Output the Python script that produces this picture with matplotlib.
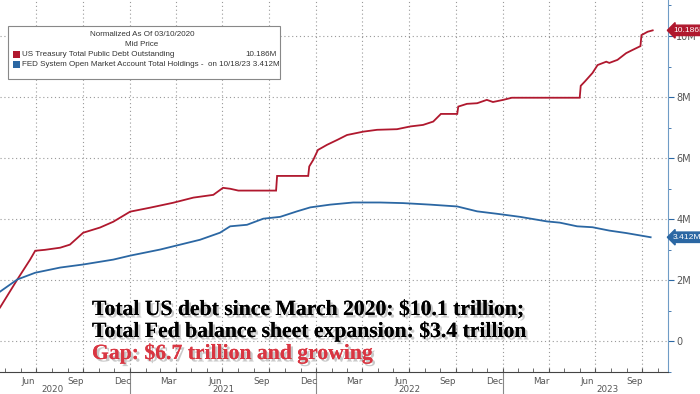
import numpy as np
import pandas as pd
import matplotlib.pyplot as plt
import matplotlib.patheffects as pe
from matplotlib.transforms import blended_transform_factory

# US Treasury total public debt, change since 03/10/2020 (trillions)
debt_dates = ['2020-04-21', '2020-05-25', '2020-06-19', '2020-06-29', '2020-07-18',
              '2020-08-17', '2020-09-05', '2020-10-01', '2020-11-03', '2020-11-29',
              '2021-01-01', '2021-02-09', '2021-03-26', '2021-05-05', '2021-06-13',
              '2021-07-02', '2021-07-16', '2021-08-01', '2021-10-14', '2021-10-16',
              '2021-12-16', '2021-12-18', '2021-12-26', '2022-01-04', '2022-01-22',
              '2022-02-11', '2022-03-02', '2022-04-03', '2022-04-30', '2022-06-08',
              '2022-07-04', '2022-07-29', '2022-08-18', '2022-09-02', '2022-10-04',
              '2022-10-06', '2022-10-23', '2022-11-12', '2022-12-01', '2022-12-13',
              '2023-01-02', '2023-01-19', '2023-06-01', '2023-06-03', '2023-06-11',
              '2023-06-26', '2023-07-06', '2023-07-23', '2023-07-29', '2023-08-14',
              '2023-08-31', '2023-09-12', '2023-09-28', '2023-09-30', '2023-10-12',
              '2023-10-22']
debt_vals = [1.11, 2.03, 2.68, 2.97, 3.00,
             3.07, 3.17, 3.56, 3.73, 3.92,
             4.25, 4.38, 4.54, 4.71, 4.80,
             5.03, 5.00, 4.94, 4.94, 5.42,
             5.42, 5.73, 5.95, 6.27, 6.44,
             6.60, 6.76, 6.87, 6.93, 6.95,
             7.04, 7.09, 7.20, 7.45, 7.45,
             7.69, 7.78, 7.80, 7.91, 7.84,
             7.91, 7.98, 7.98, 8.37, 8.51,
             8.79, 9.05, 9.16, 9.12, 9.22,
             9.44, 9.54, 9.67, 10.03, 10.14,
             10.186]

# FED SOMA total holdings, change since 03/10/2020 (trillions)
fed_dates = ['2020-04-21', '2020-05-25', '2020-06-29', '2020-08-17', '2020-10-01',
             '2020-11-29', '2021-01-01', '2021-03-01', '2021-04-09', '2021-05-18',
             '2021-06-26', '2021-07-16', '2021-08-18', '2021-09-19', '2021-10-22',
             '2021-11-24', '2021-12-20', '2022-01-28', '2022-03-14', '2022-05-06',
             '2022-06-20', '2022-08-12', '2022-10-04', '2022-11-12', '2022-12-21',
             '2023-02-04', '2023-03-29', '2023-04-23', '2023-05-27', '2023-06-26',
             '2023-07-29', '2023-08-31', '2023-10-18']
fed_vals = [1.63, 2.03, 2.25, 2.42, 2.52,
            2.68, 2.81, 3.01, 3.17, 3.33,
            3.56, 3.77, 3.82, 4.02, 4.08,
            4.26, 4.39, 4.48, 4.55, 4.55,
            4.53, 4.48, 4.42, 4.26, 4.18,
            4.08, 3.93, 3.89, 3.77, 3.74,
            3.63, 3.55, 3.412]

y_ticks = [0, 2, 4, 6, 8, 10]
y_labels = ['0', '2M', '4M', '6M', '8M', '10M']
month_labels = ['Jun', 'Sep', 'Dec', 'Mar']
years = ['2020', '2021', '2022', '2023']

RED = '#b0182e'
BLUE = '#2b67a3'
GRAY = '#555555'

fig = plt.figure(figsize=(7, 3.94), dpi=100)
ax = fig.add_axes([0, 22 / 394, 668 / 700, 372 / 394])

d_debt = pd.to_datetime(debt_dates)
d_fed = pd.to_datetime(fed_dates)
ax.plot(d_debt, debt_vals, color=RED, lw=1.3, solid_joinstyle='miter')
ax.plot(d_fed, fed_vals, color=BLUE, lw=1.3)

x0, x1 = pd.Timestamp('2020-04-21'), pd.Timestamp('2023-11-21')
ax.set_xlim(x0, x1)
ax.set_ylim(-0.98, 11.18)

# y axis on the right
ax.yaxis.tick_right()
ax.set_yticks(y_ticks)
ax.set_yticklabels(y_labels, fontsize=7, color=GRAY)
ax.set_yticks(np.arange(-1, 12, 1), minor=True)
ax.tick_params(axis='y', which='major', direction='out', length=4, color=BLUE, pad=2)
ax.tick_params(axis='y', which='minor', direction='out', length=2, color=BLUE)
ax.grid(axis='y', which='major', ls=(0, (1, 2.5)), color='#999999', lw=0.8)

# x axis: quarter grid, monthly minor ticks
quarters = pd.date_range('2020-07-01', '2023-10-01', freq='QS')
ax.set_xticks(quarters)
ax.set_xticklabels([])
ax.set_xticks(pd.date_range('2020-05-01', '2023-11-01', freq='MS'), minor=True)
ax.tick_params(axis='x', which='both', direction='in', length=3, color=GRAY)
ax.grid(axis='x', which='major', ls=(0, (1, 2.5)), color='#999999', lw=0.8)

for s in ['top', 'left']:
    ax.spines[s].set_visible(False)
ax.spines['right'].set_color('#6f9cc6')
ax.spines['bottom'].set_color('#444444')

trans = blended_transform_factory(ax.transData, ax.transAxes)
for i, q in enumerate(quarters):
    mid = q - pd.Timedelta(days=15)
    ax.text(mid, -9 / 372, month_labels[i % 4], transform=trans, ha='center', va='center',
            fontsize=6.3, color=GRAY)
year_pos = ['2020-08-01', '2021-07-02', '2022-07-02', '2023-07-26']
for y, p in zip(years, year_pos):
    ax.text(pd.Timestamp(p), -17.5 / 372, y, transform=trans, ha='center', va='center',
            fontsize=6.3, color=GRAY)
for y in ['2021-01-01', '2022-01-01', '2023-01-01']:
    ax.plot([pd.Timestamp(y)] * 2, [0, -22 / 372], transform=trans, color='#888888',
            lw=0.8, clip_on=False)

# right-side value tags (run off the right edge, as in the original)
ytrans = ax.get_yaxis_transform()
for val, txt, col in [(10.186, '10.186M', RED), (3.412, '3.412M', BLUE)]:
    ax.annotate(txt, xy=(1.0, val), xycoords=ytrans, xytext=(3.6, 0), textcoords='offset points',
                ha='left', va='center', fontsize=6.1, color='white', zorder=10,
                family=['Liberation Sans', 'DejaVu Sans'],
                bbox=dict(boxstyle='larrow,pad=0.2', fc=col, ec=col), annotation_clip=False)

# legend box
lt = dict(fontsize=5.8, color='#333333', family=['Liberation Sans', 'DejaVu Sans'])
fig.patches.append(plt.Rectangle((8 / 700, 1 - 79 / 394), 272 / 700, 53 / 394,
                                 transform=fig.transFigure, fc='white', ec='#888888', lw=0.8))
fig.text(142 / 700, 1 - 35 / 394, 'Normalized As Of 03/10/2020', ha='center', va='center', **lt)
fig.text(142 / 700, 1 - 45 / 394, 'Mid Price', ha='center', va='center', **lt)
fig.patches.append(plt.Rectangle((13 / 700, 1 - 58 / 394), 7 / 700, 7 / 394,
                                 transform=fig.transFigure, fc=RED, ec='none'))
fig.patches.append(plt.Rectangle((13 / 700, 1 - 68 / 394), 7 / 700, 7 / 394,
                                 transform=fig.transFigure, fc=BLUE, ec='none'))
fig.text(22 / 700, 1 - 54.5 / 394, 'US Treasury Total Public Debt Outstanding', ha='left', va='center', **lt)
fig.text(277 / 700, 1 - 54.5 / 394, '10.186M', ha='right', va='center', **lt)
fig.text(22 / 700, 1 - 64.5 / 394, 'FED System Open Market Account Total Holdings -  on 10/18/23 3.412M',
         ha='left', va='center', **lt)

# headline annotation
shadow = [pe.withSimplePatchShadow(offset=(1.8, -1.8), shadow_rgbFace='#888888', alpha=0.45), pe.Normal()]
tf = dict(fontsize=15.6, fontweight='bold', family=['Liberation Serif', 'DejaVu Serif'])
fig.text(92 / 700, 1 - 315 / 394, 'Total US debt since March 2020: $10.1 trillion;',
         color='black', path_effects=shadow, **tf)
fig.text(92 / 700, 1 - 337 / 394, 'Total Fed balance sheet expansion: $3.4 trillion',
         color='black', path_effects=shadow, **tf)
fig.text(92 / 700, 1 - 359 / 394, 'Gap: $6.7 trillion and growing',
         color='#d93642', path_effects=shadow, **tf)

fig.savefig('out.png', dpi=100)
